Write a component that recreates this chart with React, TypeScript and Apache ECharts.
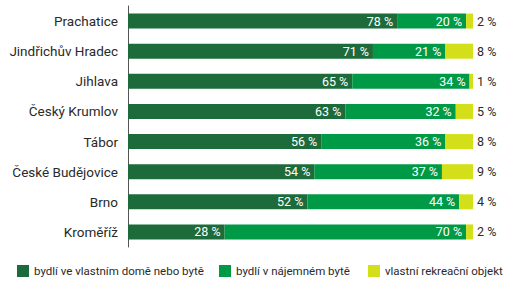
import React, { useEffect, useRef } from "react";
import * as echarts from "echarts";

const categories = [
  "Prachatice",
  "Jindřichův Hradec",
  "Jihlava",
  "Český Krumlov",
  "Tábor",
  "České Budějovice",
  "Brno",
  "Kroměříž",
];
const ownHome = [78, 71, 65, 63, 56, 54, 52, 28];
const rented = [20, 21, 34, 32, 36, 37, 44, 70];
const recreation = [2, 8, 1, 5, 8, 9, 4, 2];
const seriesNames = [
  "bydlí ve vlastním domě nebo bytě",
  "bydlí v nájemném bytě",
  "vlastní rekreační objekt",
];

const FONT = "Roboto, 'Noto Sans', sans-serif";

export default function App() {
  const ref = useRef<HTMLDivElement>(null);
  useEffect(() => {
    if (!ref.current) return;
    const chart = echarts.init(ref.current, undefined, { renderer: "svg" });
    const labelFmt = (p: any) => `${p.value} %`;
    const valueLabel = (pos: string, color: string) => ({
      show: true,
      position: pos,
      distance: 4,
      color,
      fontSize: 12.5,
      fontFamily: FONT,
      formatter: labelFmt,
    });
    chart.setOption({
      animation: false,
      textStyle: { fontFamily: FONT },
      grid: { left: 128, right: 37, top: 6, bottom: 37 },
      xAxis: { type: "value", min: 0, max: 100, show: false },
      yAxis: {
        type: "category",
        data: categories,
        inverse: true,
        axisLine: { show: true, lineStyle: { color: "#555", width: 1 } },
        axisTick: { show: false },
        axisLabel: { color: "#2a2a2a", fontSize: 13.5, fontFamily: FONT, margin: 10 },
      },
      legend: [0, 1, 2].map((i) => ({
        data: [seriesNames[i]],
        left: [17, 219, 368][i],
        top: 265,
        padding: 0,
        itemWidth: 12,
        itemHeight: 12,
        itemGap: 6,
        textStyle: { color: "#2a2a2a", fontSize: 11.5, fontFamily: FONT },
        icon: "rect",
      })),
      series: [
        {
          name: seriesNames[0],
          type: "bar",
          stack: "s",
          data: ownHome,
          barWidth: 15,
          itemStyle: { color: "#1d6b3b" },
          label: valueLabel("insideRight", "#fff"),
        },
        {
          name: seriesNames[1],
          type: "bar",
          stack: "s",
          data: rented,
          itemStyle: { color: "#009a46" },
          label: valueLabel("insideRight", "#fff"),
        },
        {
          name: seriesNames[2],
          type: "bar",
          stack: "s",
          data: recreation,
          itemStyle: { color: "#d3e019" },
          label: valueLabel("right", "#2a2a2a"),
        },
      ],
    });
    return () => chart.dispose();
  }, []);
  return <div ref={ref} style={{ width: 510, height: 284, position: "absolute", left: 0, top: 0 }} />;
}
